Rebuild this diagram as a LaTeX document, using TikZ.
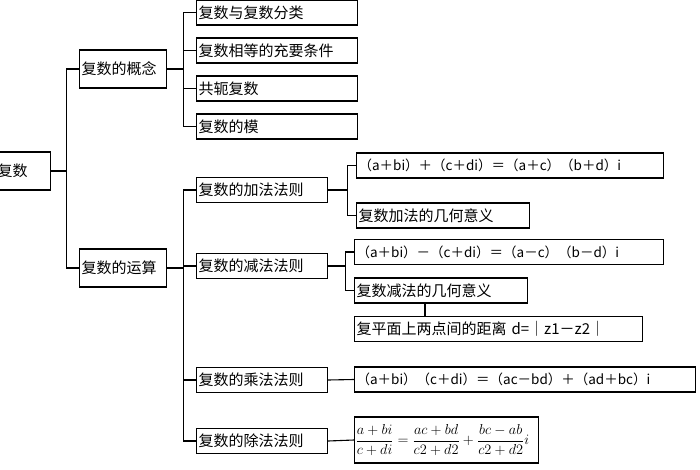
\documentclass[tikz,border=0pt]{standalone}
\usepackage{fontspec}
\setmainfont{Liberation Serif}
\newfontfamily\cjk{Noto Sans CJK SC}
\tikzset{
  box/.style={draw=black, line width=1.1pt, anchor=west, inner sep=2pt, minimum height=25pt, align=left, font=\cjk\fontsize{15}{17}\selectfont},
  link/.style={line width=1.1pt, draw=black}
}
\begin{document}
\begin{tikzpicture}[x=1pt, y=-1pt]
\useasboundingbox[fill=white] (0,0) rectangle (700,470);
\node[box, text width=51pt, minimum height=38pt] (r) at (-5,171) {复数};
\node[box, text width=83pt, minimum height=38pt] (c) at (79,69) {复数的概念};
\node[box, text width=83pt, minimum height=38pt] (o) at (79,268) {复数的运算};
\node[box, text width=157pt] (c1) at (196,12.5) {复数与复数分类};
\node[box, text width=157pt] (c2) at (196,50.5) {复数相等的充要条件};
\node[box, text width=157pt] (c3) at (196,88.5) {共轭复数};
\node[box, text width=157pt] (c4) at (196,126.5) {复数的模};
\node[box, text width=127pt] (o1) at (196,190) {复数的加法法则};
\node[box, text width=127pt] (o2) at (196,266) {复数的减法法则};
\node[box, text width=127pt] (o3) at (196,380) {复数的乘法法则};
\node[box, text width=127pt] (o4) at (196,441) {复数的除法法则};
\node[box, text width=303pt, font=\cjk\fontsize{13.5}{15}\selectfont] (a1) at (356,165.5) {（a＋bi）＋（c＋di）＝（a＋c）（b＋d）i};
\node[box, text width=169pt] (a2) at (356,215.5) {复数加法的几何意义};
\node[box, text width=305pt, font=\cjk\fontsize{13.5}{15}\selectfont] (s1) at (354,252) {（a＋bi）－（c＋di）＝（a－c）（b－d）i};
\node[box, text width=169pt] (s2) at (354,290.5) {复数减法的几何意义};
\node[box, text width=284pt] (s3) at (354,329) {复平面上两点间的距离 d=｜z1－z2｜};
\node[box, text width=337pt, font=\cjk\fontsize{13.5}{15}\selectfont] (m1) at (354,379.5) {（a＋bi）（c＋di）＝（ac－bd）＋（ad＋bc）i};
\node[box, text width=182pt, minimum height=46pt, inner sep=1pt, font=\fontsize{15}{17}\selectfont] (d1) at (354,440) {$\displaystyle\frac{a+bi}{c+di}=\frac{ac+bd}{c2+d2}+\frac{bc-ab}{c2+d2}i$};
\path[link] (r.east) -- ++(15,0) |- (c.west);
\path[link] (r.east) -- ++(15,0) |- (o.west);
\foreach \k in {c1,c2,c3,c4} \path[link] (c.east) -- ++(16,0) |- (\k.west);
\foreach \k in {o1,o2,o3,o4} \path[link] (o.east) -- ++(16,0) |- (\k.west);
\foreach \k in {a1,a2} \path[link] (o1.east) -- ++(19,0) |- (\k.west);
\foreach \k in {s1,s2} \path[link] (o2.east) -- ++(17,0) |- (\k.west);
\path[link] (s2.south -| s3.north west) ++(71,0) coordinate (t) -- (t |- s3.north);
\path[link] (o3.east) -- (m1.west);
\path[link] (o4.east) -- (d1.west);
\end{tikzpicture}
\end{document}
